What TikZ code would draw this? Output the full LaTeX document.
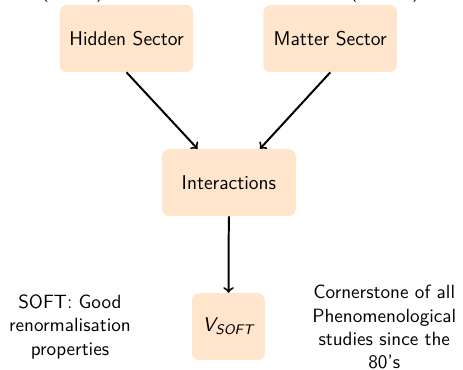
\documentclass[tikz,border=0pt]{standalone}
\usepackage{amsmath}
\usepackage{tikz}
\usetikzlibrary{positioning}

\tikzset{
  sector/.style={rectangle, rounded corners=4pt, fill=orange!20, minimum width=2.6cm, minimum height=1.3cm, inner sep=0pt, font=\sffamily\fontsize{11}{13}\selectfont},
  note/.style={align=center, inner sep=0pt, font=\sffamily\fontsize{10.6}{12.8}\selectfont},
  link/.style={->, line width=1.1pt}
}

\begin{document}
\begin{tikzpicture}
\useasboundingbox (0,0) rectangle (9,7.19);
\clip (0,0) rectangle (9,7.19);
\node[note, anchor=base] (hidtop) at (1.41,7.23){(SUSY)};
\node[note, anchor=base] (mattop) at (7.48,7.23){(MSSM)};
\node[sector] (hidden) at (2.46,6.44){Hidden Sector};
\node[sector] (matter) at (6.42,6.44){Matter Sector};
\node[sector] (inter) at (4.45,3.64){Interactions};
\node[sector, minimum width=1.42cm] (vsoft) at (4.44,0.84){$\textsf{\itshape V}_{\textsf{\itshape SOFT}}$};
\node[note, anchor=north] (good) at (1.36,1.46){SOFT: Good\\renormalisation\\properties};
\node[note, anchor=north] (corner) at (7.47,1.65){Cornerstone of all\\Phenomenological\\studies since the\\80's};
\draw[link] (hidden.south) -- (inter);
\draw[link] (matter.south) -- (inter);
\draw[link] (inter) -- (vsoft);
\end{tikzpicture}
\end{document}
